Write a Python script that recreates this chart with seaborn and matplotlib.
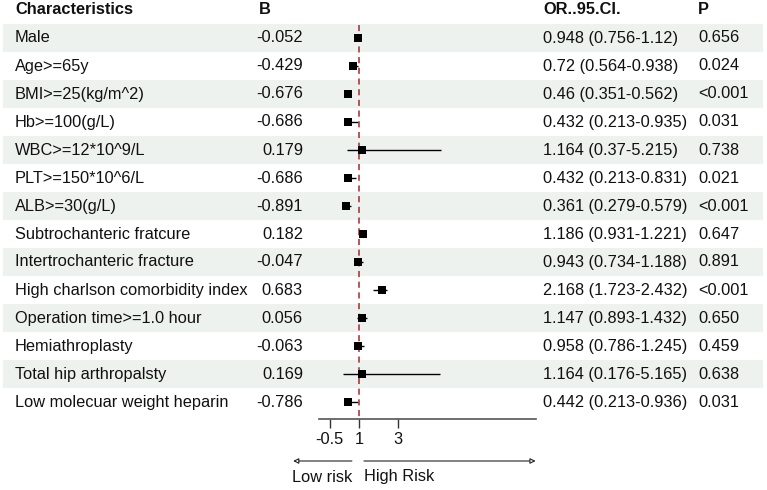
import numpy as np
import pandas as pd
import seaborn as sns
import matplotlib.pyplot as plt

sns.set_theme(style="white")
plt.rcParams['font.family'] = ['Liberation Sans', 'DejaVu Sans']

### table data
labels = ["Male", "Age>=65y", "BMI>=25(kg/m^2)", "Hb>=100(g/L)", "WBC>=12*10^9/L",
          "PLT>=150*10^6/L", "ALB>=30(g/L)", "Subtrochanteric fratcure",
          "Intertrochanteric fracture", "High charlson comorbidity index",
          "Operation time>=1.0 hour", "Hemiathroplasty", "Total hip arthropalsty",
          "Low molecuar weight heparin"]
b_vals = ["-0.052", "-0.429", "-0.676", "-0.686", "0.179", "-0.686", "-0.891",
          "0.182", "-0.047", "0.683", "0.056", "-0.063", "0.169", "-0.786"]
or_vals = [0.948, 0.72, 0.46, 0.432, 1.164, 0.432, 0.361, 1.186, 0.943, 2.168,
           1.147, 0.958, 1.164, 0.442]
ci_low = [0.756, 0.564, 0.351, 0.213, 0.37, 0.213, 0.279, 0.931, 0.734, 1.723,
          0.893, 0.786, 0.176, 0.213]
ci_high = [1.12, 0.938, 0.562, 0.935, 5.215, 0.831, 0.579, 1.221, 1.188, 2.432,
           1.432, 1.245, 5.165, 0.936]
p_vals = ["0.656", "0.024", "<0.001", "0.031", "0.738", "0.021", "<0.001", "0.647",
          "0.891", "<0.001", "0.650", "0.459", "0.638", "0.031"]
headers = ["Characteristics", "B", "OR..95.CI.", "P"]
x_ticks = [-0.5, 1, 3]

df = pd.DataFrame({"label": labels, "B": b_vals, "OR": or_vals,
                   "low": ci_low, "high": ci_high, "P": p_vals})
df["row"] = np.arange(1, len(df) + 1)
df["ci_txt"] = [f"{o} ({l}-{h})" for o, l, h in zip(df.OR, df.low, df.high)]

W, H = 767, 490
fig = plt.figure(figsize=(W / 100, H / 100), dpi=100)

# rows: centre of row i at 10 + 28*i px
ylim = ((H - 10) / 28, -10 / 28)
ax = fig.add_axes([0, 0, 1, 1])
ax.set_xlim(0, W)
ax.set_ylim(*ylim)
ax.axis('off')

band = '#eef2ef'
for r in df.row[::2]:
    ax.axhspan(r - 0.5, r + 0.5, xmin=3 / W, xmax=763 / W, color=band, lw=0, zorder=0)

fs = 11.8
tc = '#111111'
ax.text(15, 0, headers[0], fontsize=fs, fontweight='bold', va='center', color=tc)
ax.text(259, 0, headers[1], fontsize=fs, fontweight='bold', va='center', color=tc)
ax.text(543, 0, headers[2], fontsize=fs, fontweight='bold', va='center', color=tc)
ax.text(698, 0, headers[3], fontsize=fs, fontweight='bold', va='center', color=tc)
for _, d in df.iterrows():
    ax.text(15, d.row, d.label, fontsize=fs, va='center', color=tc)
    ax.text(303, d.row, d.B, fontsize=fs, va='center', ha='right', color=tc)
    ax.text(543, d.row, d.ci_txt, fontsize=fs, va='center', color=tc)
    ax.text(698, d.row, d.P, fontsize=fs, va='center', color=tc)

### forest panel
x0, x1 = 319, 536
fax = fig.add_axes([x0 / W, 0, (x1 - x0) / W, 1])
fax.patch.set_alpha(0)
fax.set_ylim(*ylim)
axis_row = (419 - 10) / 28

fax.hlines(df.row, df.low, df.high, color='black', lw=1)
sns.scatterplot(data=df, x="OR", y="row", marker='s', s=26, color='black',
                edgecolor='black', linewidth=0, ax=fax, zorder=3, legend=False)
fax.vlines(1, 0.55, axis_row, color='#a3282d', lw=1.1, linestyles=(0, (4, 3)), zorder=2)

fax.set_xlim(-1.05, 10.1)
fax.set_xticks(x_ticks)
fax.set_xticklabels(["-0.5", "1", "3"])
fax.set_yticks([])
fax.set_xlabel("")
fax.set_ylabel("")
for s in ['top', 'left', 'right']:
    fax.spines[s].set_visible(False)
fax.spines['bottom'].set_position(('data', axis_row))
fax.spines['bottom'].set_color('#555555')
fax.spines['bottom'].set_linewidth(1.2)
fax.tick_params(axis='x', direction='out', length=6.5, width=1, color='#333333',
                labelsize=fs, labelcolor=tc, pad=3, bottom=True)

arr_row = (461 - 10) / 28
txt_row = (477 - 10) / 28
fax.annotate("", xy=(-2.38, arr_row), xytext=(0.64, arr_row), annotation_clip=False,
             arrowprops=dict(arrowstyle='-|>', fc='white', ec='#222222', lw=0.8,
                             mutation_scale=8, shrinkA=0, shrinkB=0))
fax.annotate("", xy=(10.08, arr_row), xytext=(1.26, arr_row), annotation_clip=False,
             arrowprops=dict(arrowstyle='-|>', fc='white', ec='#222222', lw=0.8,
                             mutation_scale=8, shrinkA=0, shrinkB=0))
fax.text(0.64, txt_row, "Low risk", fontsize=fs, ha='right', va='center', color=tc, clip_on=False)
fax.text(1.26, txt_row, "High Risk", fontsize=fs, ha='left', va='center', color=tc, clip_on=False)

plt.savefig('out.png', dpi=100)
